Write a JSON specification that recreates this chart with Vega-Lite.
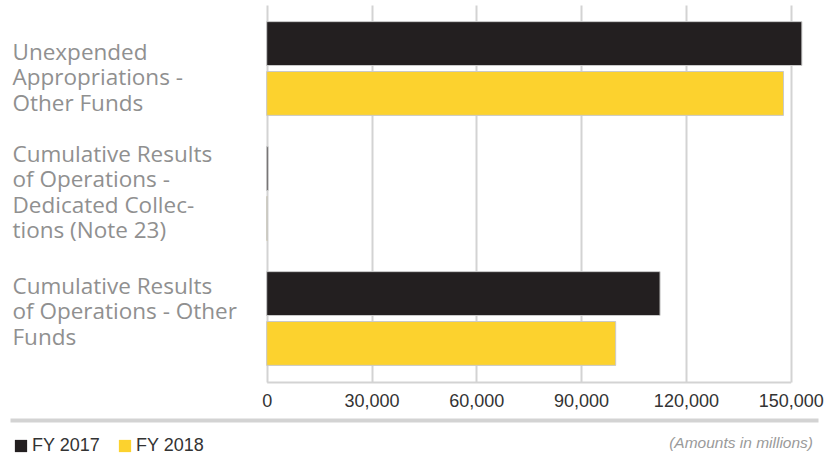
{
  "$schema": "https://vega.github.io/schema/vega-lite/v6.json",
  "padding": {"left": 10, "top": 5, "right": 6, "bottom": 0},
  "background": "white",
  "spacing": 10,
  "config": {"view": {"stroke": null}},
  "vconcat": [
    {
      "width": 808,
      "height": 377,
      "data": {
        "values": [
          {"category": "Unexpended Appropriations - Other Funds", "year": "FY 2017", "value": 153200},
          {"category": "Unexpended Appropriations - Other Funds", "year": "FY 2018", "value": 147950},
          {"category": "Cumulative Results of Operations - Dedicated Collections (Note 23)", "year": "FY 2017", "value": 400},
          {"category": "Cumulative Results of Operations - Dedicated Collections (Note 23)", "year": "FY 2018", "value": 200},
          {"category": "Cumulative Results of Operations - Other Funds", "year": "FY 2017", "value": 112600},
          {"category": "Cumulative Results of Operations - Other Funds", "year": "FY 2018", "value": 99900}
        ]
      },
      "mark": {"type": "bar", "stroke": "#c9c9c9", "strokeWidth": 1},
      "encoding": {
        "y": {
          "field": "category",
          "type": "nominal",
          "sort": [
            "Unexpended Appropriations - Other Funds",
            "Cumulative Results of Operations - Dedicated Collections (Note 23)",
            "Cumulative Results of Operations - Other Funds"
          ],
          "scale": {"paddingInner": 0.25, "paddingOuter": 0.133},
          "axis": {
            "title": null,
            "domain": false,
            "ticks": false,
            "tickSize": 0,
            "labelAlign": "left",
            "labelPadding": -2,
            "labelFont": "Open Sans",
            "labelFontSize": 22.5,
            "labelFontWeight": "normal",
            "labelColor": "#909090",
            "labelLineHeight": 25.5,
            "labelBaseline": "middle",
            "labelLimit": 0,
            "labelOffset": {
              "condition": [
                {"test": "datum.value == 'Unexpended Appropriations - Other Funds'", "value": -16},
                {"test": "datum.value == 'Cumulative Results of Operations - Other Funds'", "value": -32}
              ],
              "value": -39
            },
            "labelExpr": "datum.value == 'Unexpended Appropriations - Other Funds' ? ['Unexpended', 'Appropriations -', 'Other Funds'] : datum.value == 'Cumulative Results of Operations - Other Funds' ? ['Cumulative Results', 'of Operations - Other', 'Funds'] : ['Cumulative Results', 'of Operations -', 'Dedicated Collec-', 'tions (Note 23)']"
          }
        },
        "yOffset": {"field": "year", "type": "nominal", "scale": {"paddingInner": 0.12}},
        "x": {
          "field": "value",
          "type": "quantitative",
          "scale": {"domain": [0, 150000], "nice": false, "range": [256.7, 780.7]},
          "axis": {
            "title": null,
            "values": [0, 30000, 60000, 90000, 120000, 150000],
            "format": ",.0f",
            "grid": true,
            "gridColor": "#d3d3d3",
            "gridWidth": 2,
            "domainColor": "#d3d3d3",
            "domainWidth": 2,
            "ticks": false,
            "labelPadding": 10,
            "labelFontSize": 18,
            "labelFont": "Liberation Sans",
            "labelColor": "#333333",
            "labelFlush": false
          }
        },
        "color": {
          "field": "year",
          "type": "nominal",
          "scale": {"domain": ["FY 2017", "FY 2018"], "range": ["#231f20", "#fcd22e"]},
          "legend": {
            "orient": "none",
            "legendX": 2,
            "legendY": 432,
            "direction": "horizontal",
            "title": null,
            "symbolType": "square",
            "symbolSize": 150,
            "symbolStrokeWidth": 0,
            "labelFontSize": 18,
            "labelFont": "Liberation Sans",
            "labelColor": "#333333",
            "labelOffset": 2,
            "columnPadding": 15
          }
        }
      }
    },
    {
      "width": 808,
      "height": 36,
      "data": {"values": [{"note": "(Amounts in millions)"}]},
      "mark": {"type": "text", "align": "right", "baseline": "middle", "dy": 5, "dx": -5, "fontStyle": "italic", "font": "Liberation Sans", "fontSize": 15.5, "color": "#9a9a9a"},
      "encoding": {
        "text": {"field": "note"},
        "x": {
          "datum": 1,
          "type": "quantitative",
          "scale": {"domain": [0, 1]},
          "axis": {"orient": "top", "title": null, "labels": false, "ticks": false, "grid": false, "domainColor": "#d3d3d3", "domainWidth": 4}
        }
      }
    }
  ]
}
